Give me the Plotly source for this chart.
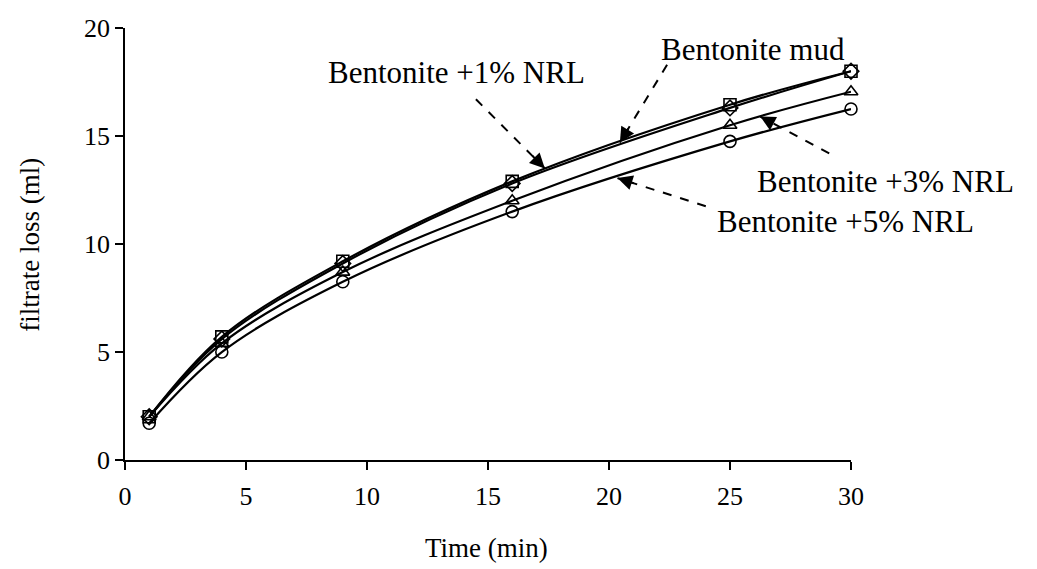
import plotly.graph_objects as go

# Filtration time (min) and cumulative filtrate loss (ml) per mud formulation
time_min = [1, 4, 9, 16, 25, 30]
bentonite_mud = [2.0, 5.7, 9.2, 12.9, 16.45, 18.0]
nrl_1 = [2.0, 5.6, 9.1, 12.8, 16.3, 18.0]
nrl_3 = [2.0, 5.4, 8.7, 12.0, 15.5, 17.05]
nrl_5 = [1.7, 5.0, 8.25, 11.5, 14.75, 16.25]

series = [
    ("Bentonite mud", bentonite_mud, "square-open", 12),
    ("Bentonite +1% NRL", nrl_1, "diamond-open", 12),
    ("Bentonite +3% NRL", nrl_3, "triangle-up-open", 12),
    ("Bentonite +5% NRL", nrl_5, "circle-open", 12),
]

FONT = "Liberation Serif, Times New Roman, serif"

fig = go.Figure()
for name, vals, sym, size in series:
    fig.add_trace(go.Scatter(
        x=time_min, y=vals, name=name, mode="lines+markers",
        line=dict(color="black", width=2.2, shape="spline", smoothing=1.0),
        marker=dict(symbol=sym, size=size, color="black",
                    line=dict(color="black", width=1.6)),
        cliponaxis=False,
    ))

# Callout labels: text position (paper), dashed leader start, arrow tip (data)
callouts = [
    ("Bentonite +1% NRL", 0.457, 0.898, 14.5, 16.7, 17.35, 13.5),
    ("Bentonite mud", 0.865, 0.951, 22.4, 18.3, 20.45, 14.7),
    ("Bentonite +3% NRL", 1.047, 0.644, 29.1, 14.2, 26.25, 15.9),
    ("Bentonite +5% NRL", 0.993, 0.551, 24.0, 11.75, 20.35, 13.05),
]

for text, tx, ty, x0, y0, x1, y1 in callouts:
    fig.add_annotation(x=tx, y=ty, xref="paper", yref="paper", text=text,
                       showarrow=False, xanchor="center", yanchor="middle",
                       font=dict(family=FONT, size=31, color="black"))
    # dashed leader line
    fig.add_shape(type="line", x0=x0, y0=y0, x1=x1, y1=y1, xref="x", yref="y",
                  line=dict(color="black", width=2, dash="dash"))
    # solid arrowhead at the tip
    fx = 0.2
    fig.add_annotation(x=x1, y=y1, ax=x1 + (x0 - x1) * fx, ay=y1 + (y0 - y1) * fx,
                       xref="x", yref="y", axref="x", ayref="y", text="",
                       showarrow=True, arrowhead=2, arrowsize=1.5, arrowwidth=2,
                       arrowcolor="black")

# Axis titles
fig.add_annotation(x=0.4986, y=-0.2037, xref="paper", yref="paper",
                   text="Time (min)", showarrow=False, xanchor="center", yanchor="middle",
                   font=dict(family=FONT, size=27, color="black"))
fig.add_annotation(x=-0.1309, y=0.498, xref="paper", yref="paper",
                   text="filtrate loss (ml)", showarrow=False, textangle=-90,
                   xanchor="center", yanchor="middle",
                   font=dict(family=FONT, size=27, color="black"))

fig.update_layout(
    width=1037, height=569,
    margin=dict(l=125, r=186, t=28, b=109),
    paper_bgcolor="white", plot_bgcolor="white",
    showlegend=False,
    font=dict(family=FONT, size=26, color="black"),
)
fig.update_xaxes(
    range=[0, 30], tick0=0, dtick=5, showgrid=False, zeroline=False,
    showline=True, linecolor="black", linewidth=1.5,
    ticks="outside", ticklen=8, tickwidth=1.5, tickcolor="black",
    tickfont=dict(family=FONT, size=26), ticklabelstandoff=4,
)
fig.update_yaxes(
    range=[0, 20], tick0=0, dtick=5, showgrid=False, zeroline=False,
    showline=True, linecolor="black", linewidth=1.5,
    ticks="outside", ticklen=8, tickwidth=1.5, tickcolor="black",
    tickfont=dict(family=FONT, size=26),
)

fig.write_html("out.html")
